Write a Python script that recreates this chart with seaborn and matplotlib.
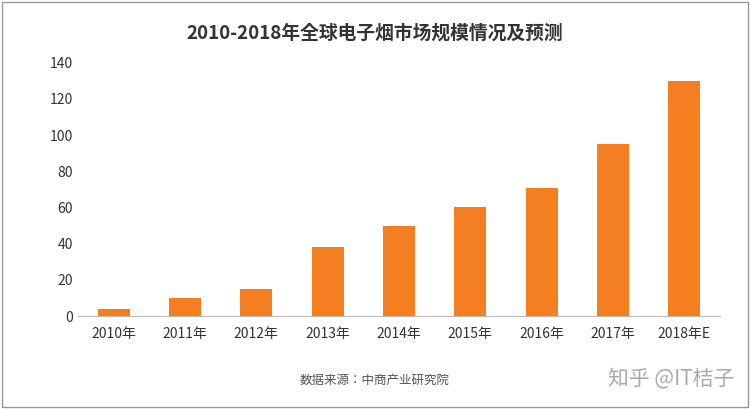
import matplotlib
matplotlib.use("Agg")
import matplotlib.pyplot as plt
from matplotlib import font_manager as fm
import seaborn as sns
import pandas as pd

years = ["2010年","2011年","2012年","2013年","2014年","2015年","2016年","2017年","2018年E"]
values = [4, 10, 15, 38, 50, 60, 71, 95, 130]
yticks = [0,20,40,60,80,100,120,140]

cjk = [f.name for f in fm.fontManager.ttflist if "CJK" in f.name]
fam = ["Noto Sans CJK SC"] if "Noto Sans CJK SC" in cjk else (cjk[:1] or ["DejaVu Sans"])
plt.rcParams["font.family"] = "sans-serif"
plt.rcParams["font.sans-serif"] = fam + ["DejaVu Sans"]

fig = plt.figure(figsize=(7.5,4.09), dpi=100)
ax = fig.add_axes([0.104, 0.227, 0.856, 0.62])
df = pd.DataFrame({"year": years, "value": values})
sns.barplot(data=df, x="year", y="value", color="#F57E20", saturation=1, width=0.45, ax=ax)
ax.set_ylim(0,140)
ax.set_yticks(yticks)
ax.set_xlabel(""); ax.set_ylabel("")
for s in ["top","right","left"]:
    ax.spines[s].set_visible(False)
ax.spines["bottom"].set_color("#bbbbbb")
ax.tick_params(length=0, labelsize=10, colors="#333333")
ax.tick_params(axis="x", pad=8)
fig.text(0.5, 0.92, "2010-2018年全球电子烟市场规模情况及预测", ha="center", va="center",
         fontsize=13.5, fontweight="bold", color="#333333")
fig.text(0.5, 0.07, "数据来源：中商产业研究院", ha="center", va="center", fontsize=9, color="#555555")
fig.text(0.98, 0.075, "知乎 @IT桔子", ha="right", va="center", fontsize=15, color="#aaaaaa")
fig.patches.append(plt.Rectangle((0.003,0.005),0.994,0.99, transform=fig.transFigure,
                                 fill=False, edgecolor="#999999", lw=1))
fig.savefig("out.png", dpi=100)
